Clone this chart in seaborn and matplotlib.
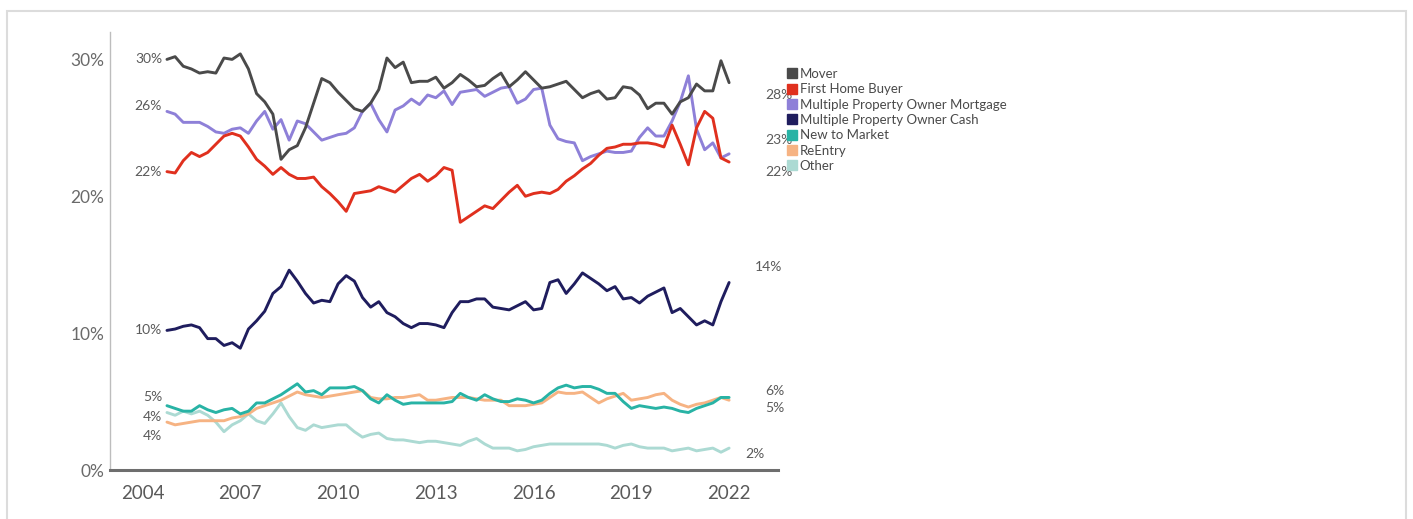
import numpy as np
import pandas as pd
import matplotlib
matplotlib.use("Agg")
import matplotlib.pyplot as plt
from matplotlib.lines import Line2D
from matplotlib.patches import Rectangle
import seaborn as sns

# ---------------- data (quarterly, share of buyers in %) ----------------
quarters = np.arange(2004.75, 2022.01, 0.25)

mover = [30.0, 30.2, 29.5, 29.3, 29.0, 29.1, 29.0, 30.1, 30.0, 30.4,
         29.3, 27.5, 26.9, 26.0, 22.7, 23.4, 23.7, 25.0, 26.8, 28.6,
         28.3, 27.6, 27.0, 26.4, 26.2, 26.8, 27.8, 30.1, 29.4, 29.8,
         28.3, 28.4, 28.4, 28.7, 27.9, 28.3, 28.9, 28.5, 28.0, 28.1,
         28.6, 29.0, 28.0, 28.5, 29.1, 28.5, 27.9, 28.0, 28.2, 28.4,
         27.8, 27.2, 27.5, 27.7, 27.1, 27.2, 28.0, 27.9, 27.4, 26.4,
         26.8, 26.8, 26.0, 26.9, 27.2, 28.2, 27.7, 27.7, 29.9, 28.3]

first_home_buyer = [21.8, 21.7, 22.6, 23.2, 22.9, 23.2, 23.8, 24.4, 24.6, 24.4,
                    23.6, 22.7, 22.2, 21.6, 22.1, 21.6, 21.3, 21.3, 21.4, 20.7,
                    20.2, 19.6, 18.9, 20.2, 20.3, 20.4, 20.7, 20.5, 20.3, 20.8,
                    21.3, 21.6, 21.1, 21.5, 22.1, 21.9, 18.1, 18.5, 18.9, 19.3,
                    19.1, 19.7, 20.3, 20.8, 20.0, 20.2, 20.3, 20.2, 20.5, 21.1,
                    21.5, 22.0, 22.4, 23.0, 23.5, 23.6, 23.8, 23.8, 23.9, 23.9,
                    23.8, 23.6, 25.2, 23.8, 22.3, 25.0, 26.2, 25.7, 22.8, 22.5]

mpo_mortgage = [26.2, 26.0, 25.4, 25.4, 25.4, 25.1, 24.7, 24.6, 24.9, 25.0,
                24.6, 25.5, 26.2, 24.9, 25.6, 24.1, 25.5, 25.3, 24.7, 24.1,
                24.3, 24.5, 24.6, 25.0, 26.2, 26.8, 25.6, 24.7, 26.3, 26.6,
                27.1, 26.7, 27.4, 27.2, 27.7, 26.7, 27.6, 27.7, 27.8, 27.3,
                27.6, 27.9, 28.0, 26.8, 27.1, 27.8, 27.9, 25.2, 24.2, 24.0,
                23.9, 22.6, 22.9, 23.1, 23.3, 23.2, 23.2, 23.3, 24.3, 25.0,
                24.4, 24.4, 25.5, 26.9, 28.8, 24.9, 23.4, 23.9, 22.8, 23.1]

mpo_cash = [10.2, 10.3, 10.5, 10.6, 10.4, 9.6, 9.6, 9.1, 9.3, 8.9,
            10.3, 10.9, 11.6, 12.9, 13.4, 14.6, 13.8, 12.9, 12.2, 12.4,
            12.3, 13.6, 14.2, 13.8, 12.6, 11.9, 12.3, 11.5, 11.2, 10.7,
            10.4, 10.7, 10.7, 10.6, 10.4, 11.5, 12.3, 12.3, 12.5, 12.5,
            11.9, 11.8, 11.7, 12.0, 12.3, 11.7, 11.8, 13.7, 13.9, 12.9,
            13.6, 14.4, 14.0, 13.6, 13.1, 13.4, 12.5, 12.6, 12.2, 12.7,
            13.0, 13.3, 11.5, 11.8, 11.2, 10.6, 10.9, 10.6, 12.3, 13.7]

new_to_market = [4.7, 4.5, 4.3, 4.3, 4.7, 4.4, 4.2, 4.4, 4.5, 4.1,
                 4.3, 4.9, 4.9, 5.2, 5.5, 5.9, 6.3, 5.7, 5.8, 5.5,
                 6.0, 6.0, 6.0, 6.1, 5.8, 5.2, 4.9, 5.5, 5.1, 4.8,
                 4.9, 4.9, 4.9, 4.9, 4.9, 5.0, 5.6, 5.3, 5.1, 5.5,
                 5.2, 5.0, 5.0, 5.2, 5.1, 4.9, 5.1, 5.6, 6.0, 6.2,
                 6.0, 6.1, 6.1, 5.9, 5.6, 5.6, 5.0, 4.5, 4.7, 4.6,
                 4.5, 4.6, 4.5, 4.3, 4.2, 4.5, 4.7, 4.9, 5.3, 5.3]

re_entry = [3.5, 3.3, 3.4, 3.5, 3.6, 3.6, 3.6, 3.6, 3.8, 3.9,
            4.1, 4.5, 4.7, 4.9, 5.1, 5.4, 5.7, 5.5, 5.4, 5.3,
            5.4, 5.5, 5.6, 5.7, 5.8, 5.3, 5.2, 5.2, 5.3, 5.3,
            5.4, 5.5, 5.1, 5.1, 5.2, 5.3, 5.3, 5.3, 5.2, 5.1,
            5.1, 5.1, 4.7, 4.7, 4.7, 4.8, 4.9, 5.3, 5.7, 5.6,
            5.6, 5.7, 5.3, 4.9, 5.2, 5.4, 5.6, 5.1, 5.2, 5.3,
            5.5, 5.6, 5.1, 4.8, 4.6, 4.8, 4.9, 5.1, 5.3, 5.1]

other = [4.2, 4.0, 4.3, 4.1, 4.3, 4.0, 3.5, 2.8, 3.3, 3.6,
         4.1, 3.6, 3.4, 4.1, 4.9, 3.9, 3.1, 2.9, 3.3, 3.1,
         3.2, 3.3, 3.3, 2.8, 2.4, 2.6, 2.7, 2.3, 2.2, 2.2,
         2.1, 2.0, 2.1, 2.1, 2.0, 1.9, 1.8, 2.1, 2.3, 1.9,
         1.6, 1.6, 1.6, 1.4, 1.5, 1.7, 1.8, 1.9, 1.9, 1.9,
         1.9, 1.9, 1.9, 1.9, 1.8, 1.6, 1.8, 1.9, 1.7, 1.6,
         1.6, 1.6, 1.4, 1.5, 1.6, 1.4, 1.5, 1.6, 1.3, 1.6]

series_names = ["Mover", "First Home Buyer", "Multiple Property Owner Mortgage",
                "Multiple Property Owner Cash", "New to Market", "ReEntry", "Other"]
series_values = [mover, first_home_buyer, mpo_mortgage, mpo_cash,
                 new_to_market, re_entry, other]
series_colors = ["#4a4a4a", "#e0301e", "#8e80d8", "#1f1d5e",
                 "#28b3a5", "#f6b383", "#acdad3"]

# label texts at start / end of lines (text, y-position in %)
start_labels = [("30%", 30.0), ("26%", 26.6), ("22%", 21.8), ("10%", 10.2),
                ("5%", 5.3), ("4%", 3.9), ("4%", 2.5)]
end_labels = [("28%", 27.4, 2023.1), ("23%", 24.1, 2023.1), ("22%", 21.8, 2023.1),
              ("14%", 14.8, 2022.8), ("6%", 5.8, 2023.1), ("5%", 4.5, 2023.1),
              ("2%", 1.2, 2022.5)]

year_ticks = [2004, 2007, 2010, 2013, 2016, 2019, 2022]
pct_ticks = [0, 10, 20, 30]

# ---------------- long form ----------------
df = pd.concat([pd.DataFrame({"quarter": quarters, "share": vals, "type": name})
                for name, vals in zip(series_names, series_values)],
               ignore_index=True)

sns.set_theme(style="white")
plt.rcParams["font.family"] = ["Lato", "DejaVu Sans"]

fig = plt.figure(figsize=(14.13, 5.19), dpi=100)
ax = fig.add_axes([0.0778, 0.0944, 0.4728, 0.8439])

palette = dict(zip(series_names, series_colors))
draw_order = series_names[::-1]
for name in draw_order:
    sns.lineplot(data=df[df["type"] == name], x="quarter", y="share",
                 color=palette[name], linewidth=2.1, ax=ax, legend=False,
                 zorder=3)

ax.set_xlim(2003.0, 2023.5)
ax.set_ylim(0, 32)
ax.set_xticks(year_ticks)
ax.set_xticklabels([str(y) for y in year_ticks])
ax.set_yticks(pct_ticks)
ax.set_yticklabels([f"{p}%" for p in pct_ticks])
ax.set_xlabel("")
ax.set_ylabel("")
ax.tick_params(axis="x", length=0, pad=11, labelsize=13.5, labelcolor="#5a5a5a")
ax.tick_params(axis="y", length=0, pad=4, labelsize=12.5, labelcolor="#6a6a6a")

for s in ["top", "right"]:
    ax.spines[s].set_visible(False)
ax.spines["left"].set_color("#bdbdbd")
ax.spines["left"].set_linewidth(1.0)
ax.spines["bottom"].set_color("#6e6e6e")
ax.spines["bottom"].set_linewidth(2.2)

for txt, yv in start_labels:
    ax.text(2004.6, yv, txt, ha="right", va="center", fontsize=10, color="#5a5a5a")
for txt, yv, xv in end_labels:
    ax.text(xv, yv, txt, ha="left", va="center", fontsize=10, color="#5a5a5a")

handles = [Line2D([0], [0], marker="s", linestyle="none", markersize=6.5,
                  markerfacecolor=c, markeredgecolor=c) for c in series_colors]
fig.legend(handles, series_names, loc="upper left",
           bbox_to_anchor=(0.553, 0.879), frameon=False, fontsize=9.5,
           labelcolor="#4a4a4a", handletextpad=0.2, labelspacing=0.25,
           borderaxespad=0, handlelength=0.8)

# light frame around the figure
fig.patches.append(Rectangle((7 / 1413, -0.05), 1399 / 1413, 1.05 - 11 / 519,
                             transform=fig.transFigure, fill=False,
                             edgecolor="#dcdcdc", linewidth=1.5))

fig.savefig("out.png", dpi=100, facecolor="white")
